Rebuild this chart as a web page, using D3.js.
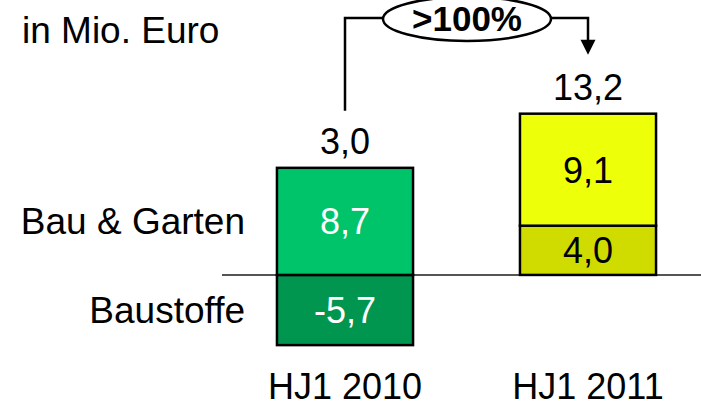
<!DOCTYPE html>
<html>
<head>
<meta charset="utf-8">
<script src="https://cdn.jsdelivr.net/npm/d3@7"></script>
<style>
  body { margin: 0; background: #fff; }
  svg { display: block; font-family: "Liberation Sans", Arial, sans-serif; }
</style>
</head>
<body>
<div id="chart"></div>
<script>
// data
const periods = ['HJ1 2010', 'HJ1 2011'];
const segments = ['Baustoffe', 'Bau & Garten'];
const baustoffe = [-5.7, 4.0];
const bauGarten = [8.7, 9.1];
const totals = [3.0, 13.2];
const growthLabel = '>100%';
const unitLabel = 'in Mio. Euro';

// german decimal comma, plain hyphen for negatives
const fmt = v => v.toFixed(1).replace('.', ',');

const width = 701, height = 406;
const svg = d3.select('#chart').append('svg')
  .attr('width', width)
  .attr('height', height);

const x = d3.scaleBand()
  .domain(periods)
  .range([223.5, 709.5])
  .paddingInner(0.44)
  .paddingOuter(0.22);

// zero line at 275, ~12.3px per Mio.
const y = d3.scaleLinear()
  .domain([-6, 14])
  .range([348.8, 102.6]);

const fills = {
  'HJ1 2010': { 'Baustoffe': '#00964f', 'Bau & Garten': '#00c46a' },
  'HJ1 2011': { 'Baustoffe': '#d0dc00', 'Bau & Garten': '#eeff0a' }
};
const textCol = {
  'HJ1 2010': '#ffffff',
  'HJ1 2011': '#000000'
};

// build stacked rects (negatives go below zero, positives stack up)
const rects = [];
periods.forEach((p, i) => {
  let pos = 0, neg = 0;
  const vals = { 'Baustoffe': baustoffe[i], 'Bau & Garten': bauGarten[i] };
  segments.forEach(s => {
    const v = vals[s];
    let y0, y1;
    if (v >= 0) { y0 = pos; y1 = pos + v; pos = y1; }
    else { y0 = neg + v; y1 = neg; neg = y0; }
    rects.push({ period: p, seg: s, value: v, y0: y0, y1: y1 });
  });
});

// zero line
svg.append('line')
  .attr('x1', 222).attr('x2', width)
  .attr('y1', y(0)).attr('y2', y(0))
  .attr('stroke', '#555')
  .attr('stroke-width', 2);

svg.selectAll('rect.seg')
  .data(rects)
  .enter()
  .append('rect')
  .attr('class', 'seg')
  .attr('x', d => x(d.period))
  .attr('width', x.bandwidth())
  .attr('y', d => y(d.y1))
  .attr('height', d => y(d.y0) - y(d.y1))
  .attr('fill', d => fills[d.period][d.seg])
  .attr('stroke', '#000')
  .attr('stroke-width', 2.5);

svg.selectAll('text.val')
  .data(rects)
  .enter()
  .append('text')
  .attr('class', 'val')
  .attr('x', d => x(d.period) + x.bandwidth() / 2)
  .attr('y', d => (y(d.y0) + y(d.y1)) / 2 + 13)
  .attr('text-anchor', 'middle')
  .attr('font-size', 36)
  .attr('fill', d => textCol[d.period])
  .text(d => fmt(d.value));

// totals above bars
const tops = periods.map((p, i) => Math.max(0, baustoffe[i]) + bauGarten[i]);
svg.selectAll('text.total')
  .data(periods)
  .enter()
  .append('text')
  .attr('class', 'total')
  .attr('x', d => x(d) + x.bandwidth() / 2)
  .attr('y', (d, i) => y(tops[i]) - 14)
  .attr('text-anchor', 'middle')
  .attr('font-size', 36)
  .text((d, i) => fmt(totals[i]));

// period labels
svg.selectAll('text.period')
  .data(periods)
  .enter()
  .append('text')
  .attr('class', 'period')
  .attr('x', d => x(d) + x.bandwidth() / 2)
  .attr('y', 399)
  .attr('text-anchor', 'middle')
  .attr('font-size', 36)
  .text(d => d);

// segment labels on the left
svg.append('text')
  .attr('x', 245).attr('y', y(bauGarten[0] / 2) + 13)
  .attr('text-anchor', 'end').attr('font-size', 37)
  .text(segments[1]);
svg.append('text')
  .attr('x', 245).attr('y', y(baustoffe[0] / 2) + 13)
  .attr('text-anchor', 'end').attr('font-size', 37)
  .text(segments[0]);

svg.append('text')
  .attr('x', 22).attr('y', 43)
  .attr('font-size', 37)
  .text(unitLabel);

// growth connector
const cx1 = x(periods[0]) + x.bandwidth() / 2;
const cx2 = x(periods[1]) + x.bandwidth() / 2;
const lineY = 18;
const ell = { cx: 467, cy: 19, rx: 84, ry: 22 };

svg.append('path')
  .attr('d', `M${cx1},${y(tops[0]) - 57} V${lineY} H${ell.cx - ell.rx}`)
  .attr('fill', 'none')
  .attr('stroke', '#000')
  .attr('stroke-width', 2.5);
svg.append('path')
  .attr('d', `M${ell.cx + ell.rx},${lineY} H${cx2} V${y(tops[1]) - 72}`)
  .attr('fill', 'none')
  .attr('stroke', '#000')
  .attr('stroke-width', 2.5);
const tipY = y(tops[1]) - 59;
svg.append('path')
  .attr('d', `M${cx2 - 7.5},${tipY - 15} L${cx2 + 7.5},${tipY - 15} L${cx2},${tipY} Z`)
  .attr('fill', '#000');

svg.append('ellipse')
  .attr('cx', ell.cx).attr('cy', ell.cy)
  .attr('rx', ell.rx).attr('ry', ell.ry)
  .attr('fill', '#fff')
  .attr('stroke', '#000')
  .attr('stroke-width', 2.5);
svg.append('text')
  .attr('x', ell.cx).attr('y', ell.cy + 12)
  .attr('text-anchor', 'middle')
  .attr('font-size', 35)
  .attr('font-weight', 'bold')
  .text(growthLabel);
</script>
</body>
</html>
